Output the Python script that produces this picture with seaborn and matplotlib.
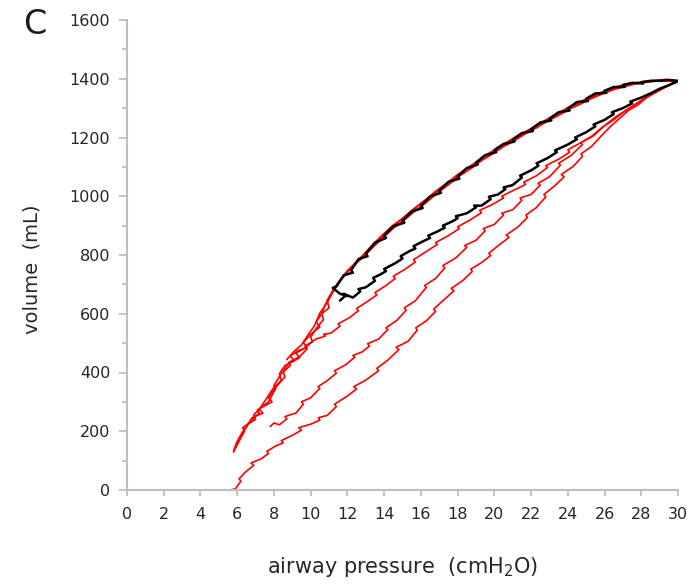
import matplotlib
matplotlib.use("Agg")
import matplotlib.pyplot as plt
from matplotlib.ticker import MultipleLocator
import seaborn as sns
import pandas as pd

# ---------------- data ----------------
x_ticks = [0, 2, 4, 6, 8, 10, 12, 14, 16, 18, 20, 22, 24, 26, 28, 30]
y_ticks = [0, 200, 400, 600, 800, 1000, 1200, 1400, 1600]

# black loop: inflation then deflation
black_p = [11.6, 11.9, 11.8, 12.3, 12.7, 12.6, 13.0, 13.5, 13.4, 13.8, 14.1, 14.0, 14.6, 15.0, 14.9,
           15.4, 15.7, 15.6, 16.1, 16.5, 16.4, 16.9, 17.3, 17.2, 17.7, 18.0, 17.9, 18.5, 19.0, 18.9,
           19.3, 19.8, 19.7, 20.2, 20.6, 20.5, 21.0, 21.5, 21.4, 22.0, 22.4, 22.3, 22.9, 23.4, 23.3,
           24.0, 24.5, 24.4, 25.0, 25.5, 25.4, 26.0, 26.5, 26.4, 27.0, 27.5, 27.4, 28.0, 28.5, 29.0,
           29.5, 30.0,
           29.5, 29.0, 28.5, 28.0, 28.1, 27.5, 27.0, 27.1, 26.5, 26.0, 26.1, 25.5, 25.0, 25.1, 24.5,
           24.0, 24.1, 23.5, 23.0, 23.1, 22.5, 22.0, 22.1, 21.5, 21.0, 21.1, 20.5, 20.0, 20.1, 19.5,
           19.0, 19.1, 18.5, 18.0, 18.1, 17.5, 17.0, 17.1, 16.5, 16.0, 16.1, 15.5, 15.0, 15.1, 14.5,
           14.0, 14.1, 13.5, 13.0, 13.1, 12.6, 12.2, 12.3, 11.8, 11.4, 11.2, 11.6, 12.0]
black_v = [645, 662, 668, 655, 676, 684, 690, 712, 722, 734, 745, 752, 772, 788, 796,
           814, 822, 830, 846, 858, 866, 880, 893, 900, 914, 925, 932, 942, 962, 968,
           968, 990, 998, 1006, 1024, 1030, 1038, 1064, 1070, 1088, 1104, 1112, 1130, 1150, 1156,
           1176, 1194, 1200, 1218, 1238, 1244, 1260, 1280, 1286, 1300, 1316, 1322, 1336, 1350, 1366,
           1378, 1393,
           1396, 1393, 1393, 1388, 1384, 1386, 1379, 1372, 1372, 1359, 1352, 1350, 1332, 1324, 1321,
           1298, 1292, 1286, 1264, 1258, 1251, 1228, 1222, 1215, 1193, 1186, 1178, 1157, 1150, 1140,
           1114, 1108, 1096, 1067, 1060, 1049, 1019, 1012, 999, 967, 960, 948, 917, 910, 898,
           866, 858, 842, 803, 796, 786, 748, 740, 731, 693, 688, 668, 660]

# red breath A: inflation from the lowest start, then deflation
red_a_p = [5.6, 5.9, 6.2, 6.1, 6.5, 6.9, 6.75, 7.3, 7.7, 7.62, 8.1, 8.5, 8.4, 9.0, 9.5, 9.35,
           10.0, 10.5, 10.42, 10.9, 11.4, 11.3, 12.0, 12.5, 12.35, 13.0, 13.7, 13.6, 14.2, 14.8,
           14.65, 15.3, 15.8, 15.72, 16.3, 16.8, 16.7, 17.3, 17.8, 17.65, 18.3, 18.8, 18.72, 19.3,
           19.8, 19.7, 20.3, 20.8, 20.65, 21.3, 21.8, 21.72, 22.3, 22.8, 22.7, 23.3, 23.8, 23.65,
           24.3, 24.8, 24.72, 25.3, 25.8, 26.3, 26.8, 27.3, 27.8, 28.3, 28.8, 29.3, 29.7, 30.0,
           29.4, 28.8, 28.2, 27.6, 27.0, 26.4, 25.8, 25.2, 24.6, 24.0, 23.4, 22.8, 22.2, 21.6, 21.0,
           20.4, 19.8, 19.2, 18.6, 18.0, 17.4, 16.8, 16.2, 15.6, 15.0, 14.4, 13.8, 13.2, 12.6, 12.0,
           11.5, 11.1, 10.8, 10.6, 10.7, 10.3, 10.0, 10.1, 9.6, 9.2, 9.4, 8.8, 8.5, 8.6, 8.1, 7.7,
           7.9, 7.3, 6.9, 7.0, 6.6, 6.3, 6.0, 5.8]
red_a_v = [0, 4, 30, 38, 64, 84, 92, 106, 124, 132, 150, 160, 168, 186, 204, 212,
           224, 238, 246, 254, 284, 292, 320, 344, 352, 374, 406, 414, 442, 478,
           486, 506, 544, 552, 576, 608, 616, 650, 678, 686, 714, 744, 752, 774,
           798, 806, 836, 860, 868, 896, 928, 936, 962, 998, 1006, 1036, 1066, 1074,
           1102, 1136, 1144, 1170, 1204, 1236, 1264, 1292, 1310, 1336, 1354, 1372, 1384, 1390,
           1398, 1395, 1391, 1386, 1379, 1368, 1353, 1338, 1319, 1302, 1280, 1260, 1238, 1217, 1196,
           1174, 1150, 1126, 1098, 1074, 1044, 1017, 985, 957, 925, 897, 862, 824, 782, 747,
           706, 664, 632, 600, 580, 550, 520, 505, 480, 466, 450, 430, 405, 385, 350, 314,
           300, 280, 256, 240, 225, 198, 166, 132]

# red breath B: inflation from the middle start, then deflation
red_b_p = [7.8, 8.0, 8.3, 8.7, 8.6, 9.2, 9.6, 9.5, 10.0, 10.5, 10.4, 10.9, 11.4, 11.3, 11.9,
           12.4, 12.3, 12.8, 13.2, 13.1, 13.7, 14.2, 14.1, 14.7, 15.2, 15.1, 15.7, 16.3, 16.2,
           16.8, 17.3, 17.2, 17.9, 18.5, 18.38, 19.0, 19.5, 19.4, 20.0, 20.5, 20.4, 21.0, 21.5,
           21.4, 22.0, 22.5, 22.38, 23.0, 23.6, 23.5, 24.2, 24.8, 24.7, 25.4, 26.0, 26.6, 27.2,
           27.8, 28.4, 29.0, 29.5, 30.0,
           29.2, 28.6, 28.0, 27.4, 26.8, 26.2, 25.6, 25.0, 24.4, 23.8, 23.2, 22.6, 22.0, 21.4, 20.8,
           20.2, 19.6, 19.0, 18.4, 17.8, 17.2, 16.6, 16.0, 15.4, 14.8, 14.2, 13.6, 13.0, 12.4, 11.8,
           11.3, 10.9, 11.0, 10.6, 10.3, 10.5, 10.0, 9.6, 9.8, 9.3, 8.9, 9.1, 8.6, 8.3, 8.4, 8.0,
           7.6, 7.2, 7.4, 6.8, 6.5, 6.2, 5.9]
red_b_v = [216, 228, 222, 242, 250, 262, 292, 300, 314, 346, 352, 372, 398, 406, 426,
           452, 458, 470, 490, 498, 514, 546, 552, 578, 612, 620, 644, 690, 696,
           720, 756, 764, 790, 826, 832, 850, 882, 890, 904, 936, 942, 954, 986,
           994, 1006, 1038, 1044, 1066, 1106, 1112, 1140, 1176, 1182, 1206, 1240, 1270, 1294,
           1318, 1342, 1362, 1378, 1390,
           1393, 1391, 1387, 1381, 1371, 1358, 1346, 1328, 1311, 1290, 1271, 1250, 1229, 1206, 1186,
           1162, 1139, 1112, 1089, 1060, 1033, 1002, 976, 942, 913, 880, 846, 808, 771, 728,
           690, 646, 620, 600, 572, 555, 530, 502, 485, 474, 456, 440, 424, 396, 372, 350,
           312, 274, 262, 246, 214, 186, 150]

# red breath C: inflation from the left start, then deflation
red_c_p = [5.8, 6.1, 6.4, 6.3, 6.6, 7.2, 7.1, 7.7, 8.1, 8.0, 8.4, 8.9, 8.8, 9.4, 9.8, 9.7,
           10.3, 10.8, 10.7, 11.1, 11.6, 11.5, 12.1, 12.6, 12.5, 13.1, 13.6, 13.5, 14.1, 14.6,
           14.5, 15.1, 15.7, 15.6, 16.3, 16.9, 16.8, 17.5, 18.1, 18.0, 18.7, 19.3, 19.2, 19.9,
           20.5, 20.4, 21.1, 21.7, 21.6, 22.3, 22.9, 22.8, 23.5, 24.1, 24.0, 24.7, 25.3, 25.9,
           26.5, 27.1, 27.7, 28.3, 28.9, 29.5, 30.0,
           29.5, 28.9, 28.3, 27.7, 27.1, 26.5, 25.9, 25.3, 24.7, 24.1, 23.5, 22.9, 22.3, 21.7, 21.1,
           20.5, 19.9, 19.3, 18.7, 18.1, 17.5, 16.9, 16.3, 15.7, 15.1, 14.5, 13.9, 13.3, 12.7, 12.1,
           11.6, 11.2, 10.9, 10.5, 10.2, 9.9, 9.5, 9.1, 8.7]
red_c_v = [129, 166, 200, 212, 226, 262, 272, 300, 346, 356, 396, 424, 434, 454, 480, 490,
           514, 524, 530, 534, 558, 566, 586, 610, 618, 642, 664, 672, 696, 720,
           728, 750, 776, 784, 812, 836, 842, 866, 890, 896, 920, 944, 952, 972,
           994, 1000, 1022, 1040, 1048, 1070, 1098, 1104, 1126, 1150, 1158, 1182, 1204, 1236,
           1260, 1290, 1314, 1338, 1358, 1378, 1390,
           1395, 1394, 1388, 1383, 1373, 1363, 1349, 1333, 1314, 1297, 1275, 1256, 1233, 1213, 1189,
           1169, 1144, 1121, 1093, 1069, 1039, 1011, 979, 951, 919, 891, 857, 821, 784, 749,
           711, 673, 638, 602, 558, 532, 494, 472, 444]

# ---------------- plotting ----------------
sns.set_theme(style="white")
plt.rcParams["font.family"] = ["DejaVu Sans"]
plt.rcParams["mathtext.default"] = "regular"

fig = plt.figure(figsize=(6.9, 5.87), dpi=100)
ax = fig.add_axes([127 / 690, 1 - 490 / 587, (678 - 127) / 690, (490 - 20) / 587])

red = "#ff0000"
for p, v in [(red_a_p, red_a_v), (red_b_p, red_b_v), (red_c_p, red_c_v)]:
    df = pd.DataFrame({"p": p, "v": v})
    sns.lineplot(data=df, x="p", y="v", sort=False, estimator=None, color=red,
                 linewidth=1.2, ax=ax)

dfb = pd.DataFrame({"p": black_p, "v": black_v})
sns.lineplot(data=dfb, x="p", y="v", sort=False, estimator=None, color="black",
             linewidth=1.8, ax=ax)

ax.set_xlim(0, 30)
ax.set_ylim(0, 1600)
ax.set_xticks(x_ticks)
ax.set_yticks(y_ticks)
ax.yaxis.set_minor_locator(MultipleLocator(100))

for s in ["top", "right"]:
    ax.spines[s].set_visible(False)
for s in ["left", "bottom"]:
    ax.spines[s].set_color("#bfbfbf")
    ax.spines[s].set_linewidth(1.5)

ax.tick_params(axis="both", which="both", direction="out", color="#bfbfbf",
               labelcolor="#262626", labelsize=11.5)
ax.tick_params(axis="y", which="major", length=6, width=1.3, pad=6, left=True)
ax.tick_params(axis="y", which="minor", length=3.5, width=1.3, left=True)
ax.tick_params(axis="x", which="major", length=4, width=1.3, pad=8, bottom=True)

ax.set_xlabel("airway pressure  (cmH$_2$O)", fontsize=15, color="#262626")
ax.set_ylabel("volume  (mL)", fontsize=14, color="#262626")
ax.xaxis.set_label_coords(0.5, -0.138)
ax.yaxis.set_label_coords(-0.155, 0.47)

fig.text(35 / 690, 1 - 24 / 587, "C", fontsize=24, color="#1a1a1a",
         ha="center", va="center")

fig.savefig("out.png", dpi=100)
